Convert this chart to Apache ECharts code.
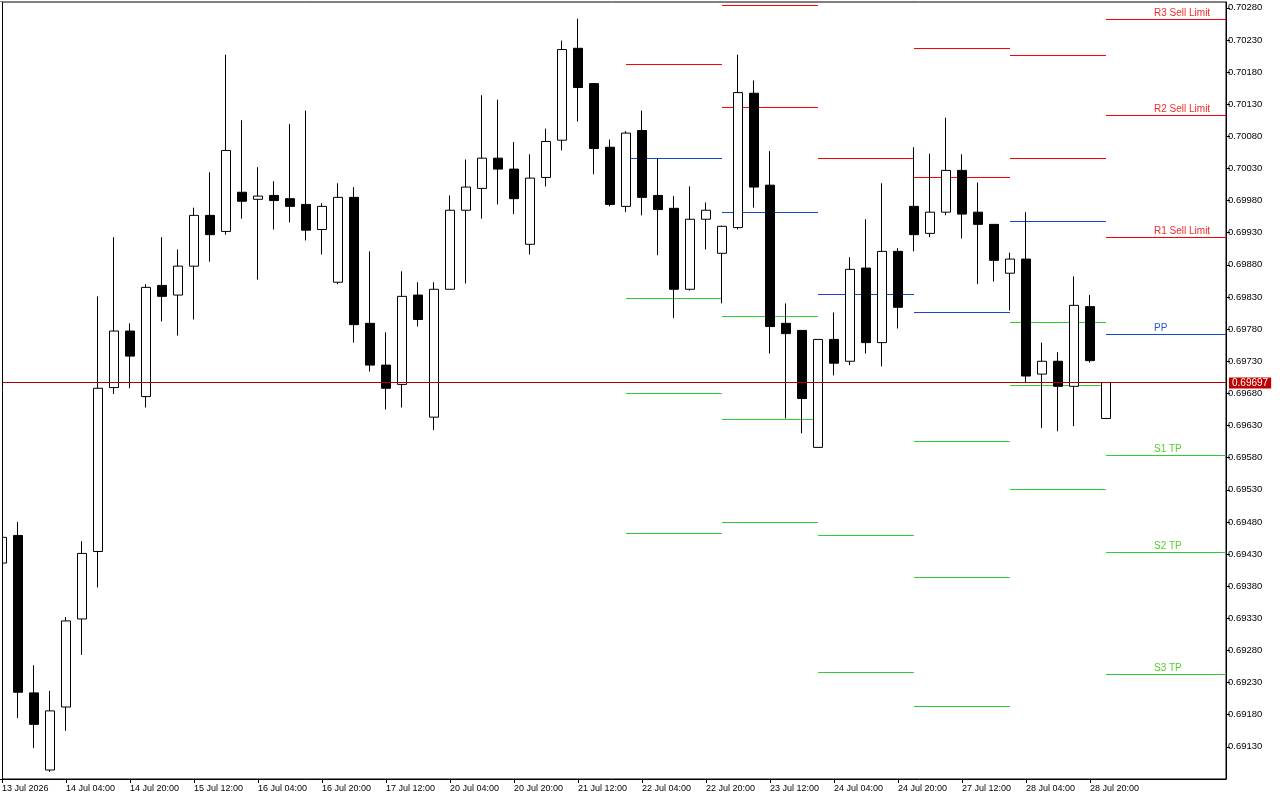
<!DOCTYPE html>
<html><head><meta charset="utf-8">
<script src="https://cdn.jsdelivr.net/npm/echarts@6/dist/echarts.min.js"></script>
<style>html,body{margin:0;padding:0;background:#fff}#c{width:1280px;height:800px}</style>
</head><body><div id="c"></div>
<script>
// ---- trading sessions (4h candles) ----
const sessionDays = ['13 Jul','14 Jul','15 Jul','16 Jul','17 Jul','20 Jul','21 Jul','22 Jul','23 Jul','24 Jul','27 Jul','28 Jul','29 Jul'];
const fullDay = ['00:00','04:00','08:00','12:00','16:00','20:00'];
const sessionHours = [
  ['12:00','16:00','20:00'],
  fullDay, fullDay, fullDay, fullDay, fullDay, fullDay, fullDay, fullDay, fullDay, fullDay, fullDay,
  ['00:00']
];
const yearLabel = '2026';
const emptySlotsRight = 7;

// ---- OHLC ----
const open = [0.69416,0.69459,0.69214,0.69094,0.69192,0.69329,0.69434,0.69689,0.69777,0.69675,
0.69848,0.69833,0.69878,0.69957,0.69932,0.69993,0.69982,0.69988,0.69983,0.69974,
0.69935,0.69853,0.69985,0.69789,0.69724,0.69694,0.69833,0.69643,0.69842,0.69965,
0.69999,0.70046,0.70029,0.69912,0.70016,0.70074,0.70217,0.70162,0.70063,0.69971,
0.70089,0.69988,0.69968,0.69842,0.69951,0.69898,0.69938,0.70147,0.70004,0.69789,
0.69778,0.69596,0.69764,0.69730,0.69875,0.69759,0.69901,0.69971,0.69929,0.69962,
0.70027,0.69962,0.69943,0.69867,0.69889,0.69710,0.69730,0.69691,0.69815,0.69641];
const close = [0.69456,0.69215,0.69165,0.69186,0.69326,0.69431,0.69688,0.69777,0.69738,0.69845,
0.69831,0.69878,0.69957,0.69927,0.70058,0.69979,0.69987,0.69980,0.69971,0.69934,
0.69971,0.69985,0.69787,0.69724,0.69688,0.69831,0.69795,0.69842,0.69965,0.70001,
0.70046,0.70029,0.69983,0.70015,0.70072,0.70215,0.70156,0.70061,0.69974,0.70085,
0.69985,0.69966,0.69842,0.69951,0.69965,0.69940,0.70148,0.70001,0.69784,0.69773,
0.69672,0.69764,0.69727,0.69873,0.69759,0.69901,0.69814,0.69927,0.69962,0.70027,
0.69959,0.69943,0.69887,0.69889,0.69707,0.69730,0.69691,0.69817,0.69731,0.69697];
const low = [0.69416,0.69175,0.69128,0.69091,0.69155,0.69273,0.69378,0.69679,0.69688,0.69658,
0.69792,0.69770,0.69795,0.69885,0.69927,0.69952,0.69857,0.69935,0.69946,0.69918,
0.69896,0.69850,0.69759,0.69714,0.69655,0.69658,0.69784,0.69623,0.69842,0.69851,
0.69952,0.69974,0.69959,0.69896,0.70002,0.70058,0.70103,0.70021,0.69971,0.69962,
0.69957,0.69895,0.69797,0.69840,0.69904,0.69820,0.69935,0.69969,0.69742,0.69641,
0.69618,0.69596,0.69708,0.69724,0.69742,0.69722,0.69781,0.69901,0.69923,0.69957,
0.69921,0.69850,0.69854,0.69809,0.69697,0.69626,0.69621,0.69629,0.69728,0.69641];
const high = [0.69456,0.69480,0.69257,0.69217,0.69332,0.69450,0.69831,0.69923,0.69789,0.69850,
0.69923,0.69904,0.69969,0.70024,0.70207,0.70105,0.70032,0.70010,0.70099,0.70120,
0.69976,0.70007,0.70001,0.69901,0.69775,0.69870,0.69853,0.69853,0.69988,0.70044,
0.70144,0.70137,0.70071,0.70052,0.70092,0.70229,0.70263,0.70162,0.70075,0.70088,
0.70120,0.70046,0.69987,0.70002,0.69977,0.69941,0.70207,0.70167,0.70057,0.69820,
0.69778,0.69764,0.69806,0.69892,0.69951,0.70007,0.69906,0.70063,0.70053,0.70109,
0.70052,0.70008,0.69943,0.69899,0.69962,0.69759,0.69744,0.69862,0.69833,0.69697];
const currentPrice = 0.69697;

// ---- daily pivot levels ----
const pivotDays = ['22 Jul','23 Jul','24 Jul','27 Jul','28 Jul','29 Jul'];
const R3 = [null,    null,    null,    null,    null,    0.70262];
const R2 = [null,    0.70284, null,    0.70218, 0.70207, 0.70113];
const R1 = [0.70193, 0.70125, 0.70047, 0.70016, 0.70047, 0.69923];
const PP = [0.70046, 0.69962, 0.69834, 0.69806, 0.69949, 0.69773];
const S1 = [0.69828, 0.69801, 0.69459, 0.69606, 0.69791, 0.69584];
const S2 = [0.69680, 0.69640, 0.69246, 0.69394, 0.69693, 0.69433];
const S3 = [0.69462, 0.69480, null,    0.69193, 0.69532, 0.69243];
const levelLabels = ['R3 Sell Limit','R2 Sell Limit','R1 Sell Limit','PP','S1 TP','S2 TP','S3 TP'];

// ---- build ----
const categories = [];
const dayOfIndex = [];
sessionDays.forEach((d, di) => sessionHours[di].forEach(h => { categories.push(d + ' ' + h); dayOfIndex.push(d); }));
const nCandles = categories.length;
const axisCats = categories.concat(new Array(emptySlotsRight).fill(''));
const ohlc = open.map((o, i) => [o, close[i], low[i], high[i]]);

const levelArrays = [R3, R2, R1, PP, S1, S2, S3];
const levelColors = ['#ff0000','#ff0000','#ff0000','#1449c8','#32cd32','#32cd32','#32cd32'];
const levelTextColors = ['#f22a2a','#f22a2a','#f22a2a','#2356d6','#58cc2c','#58cc2c','#58cc2c'];
const segs = [];
const segText = [];
pivotDays.forEach((d, di) => {
  const s = dayOfIndex.indexOf(d);
  const last = di === pivotDays.length - 1;
  const e = last ? -1 : dayOfIndex.indexOf(pivotDays[di + 1]);
  levelArrays.forEach((arr, li) => {
    if (arr[di] == null) return;
    segs.push([s, arr[di], e, li]);
    segText.push(last ? levelLabels[li] : '');
  });
});

const tickShow = (idx) => idx < nCandles && idx % 4 === 0;
const FONT = '"Liberation Sans", Arial, sans-serif';

const chart = echarts.init(document.getElementById('c'), null, { renderer: 'canvas' });
chart.setOption({
  animation: false,
  backgroundColor: '#fff',
  textStyle: { fontFamily: FONT },
  grid: { left: -6, right: 54, top: 2, bottom: 21, containLabel: false, outerBoundsMode: 'none',
    show: true, borderColor: '#000', borderWidth: 1, backgroundColor: '#fff' },
  xAxis: {
    type: 'category', data: axisCats, boundaryGap: true,
    axisLine: { show: true, lineStyle: { color: '#000', width: 1 } },
    axisTick: { show: true, alignWithLabel: true, interval: tickShow, length: 4, lineStyle: { color: '#000' } },
    axisLabel: {
      interval: tickShow, align: 'left', margin: 5, color: '#000', fontSize: 9,
      formatter: (v, idx) => idx === 0 ? (dayOfIndex[0] + ' ' + yearLabel) : v
    },
    splitLine: { show: false }
  },
  yAxis: {
    type: 'value', position: 'right', scale: true,
    min: 0.69080, max: 0.70289, interval: 0.0005,
    axisLine: { show: true, lineStyle: { color: '#000', width: 1 } },
    axisTick: { show: true, length: 4, lineStyle: { color: '#000' } },
    axisLabel: { showMinLabel: false, showMaxLabel: false, margin: 2, color: '#000', fontSize: 9.5,
      formatter: v => v.toFixed(5) },
    splitLine: { show: false }
  },
  series: [
    {
      type: 'candlestick', data: ohlc, barWidth: 10, z: 3,
      itemStyle: { color: '#ffffff', color0: '#000000', borderColor: '#000000', borderColor0: '#000000', borderWidth: 1 }
    },
    {
      // daily pivot segments
      type: 'custom', data: segs, clip: false, z: 2, silent: true,
      encode: { x: 0, y: 1 },
      renderItem: (params, api) => {
        const s = api.value(0), v = api.value(1), e = api.value(2), li = api.value(3);
        const p1 = api.coord([s, v]);
        const cs = params.coordSys;
        const x2 = e < 0 ? cs.x + cs.width : api.coord([e, v])[0];
        const y = Math.round(p1[1]);
        const x1 = Math.round(p1[0]);
        const children = [{
          type: 'rect', shape: { x: x1, y: y, width: Math.round(x2) - x1, height: 1 },
          style: { fill: levelColors[li], stroke: null, lineWidth: 0 }
        }];
        const lab = segText[params.dataIndex];
        if (lab) {
          const bw = api.size([1, 0])[0];
          children.push({
            type: 'text', x: x1 + bw * 3, y: y - 1,
            style: { text: lab, fill: levelTextColors[li], font: '10px ' + FONT,
              align: 'left', verticalAlign: 'bottom' }
          });
        }
        return { type: 'group', children };
      }
    },
    {
      // current price line + tag
      type: 'custom', data: [[nCandles - 1, currentPrice]], clip: false, z: 4, silent: true,
      encode: { x: 0, y: 1 },
      renderItem: (params, api) => {
        const p = api.coord([api.value(0), api.value(1)]);
        const cs = params.coordSys;
        const y = Math.round(p[1]);
        return { type: 'group', children: [
          { type: 'rect', shape: { x: cs.x, y: y, width: cs.width, height: 1 }, style: { fill: '#b00000' } },
          { type: 'text', x: cs.x + cs.width + 3, y: y + 1,
            style: { text: api.value(1).toFixed(5), fill: '#fff', font: '10px ' + FONT,
              align: 'left', verticalAlign: 'middle', backgroundColor: '#c00000', padding: [1, 3, 0, 3] } }
        ]};
      }
    }
  ],
  graphic: [
    { type: 'rect', left: 0, top: 2, z: 100, shape: { width: 2, height: 777 }, style: { fill: '#fff' } },
    { type: 'line', z: 101, shape: { x1: 2.5, y1: 2, x2: 2.5, y2: 779 }, style: { stroke: '#000', lineWidth: 1 } }
  ]
});
</script>
</body></html>
